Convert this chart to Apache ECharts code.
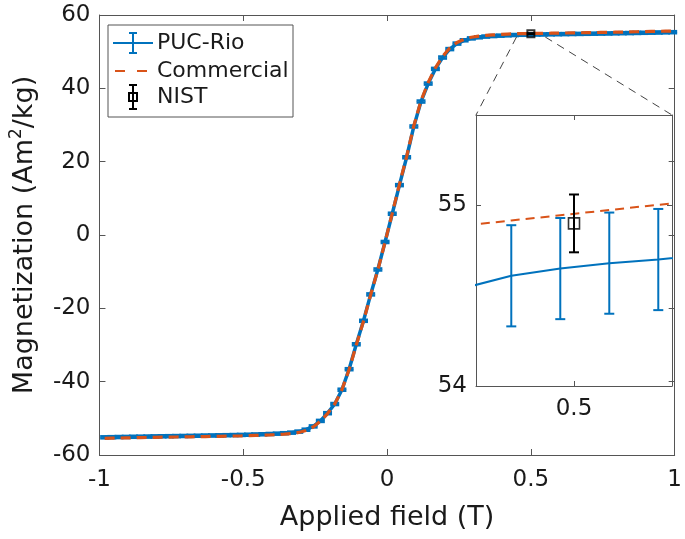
<!DOCTYPE html>
<html>
<head>
<meta charset="utf-8">
<script src="https://cdn.jsdelivr.net/npm/echarts@6/dist/echarts.min.js"></script>
<style>html,body{margin:0;padding:0;background:#fff}#c{width:685px;height:539px}</style>
</head>
<body>
<div id="c"></div>
<script>
// ---------------- data ----------------
const fieldT = [-0.982,-0.957,-0.932,-0.907,-0.882,-0.857,-0.832,-0.807,-0.782,-0.757,-0.732,-0.707,-0.682,-0.657,-0.632,-0.607,-0.582,-0.557,-0.532,-0.507,-0.482,-0.457,-0.432,-0.407,-0.382,-0.357,-0.332,-0.307,-0.282,-0.257,-0.232,-0.207,-0.182,-0.157,-0.132,-0.107,-0.082,-0.057,-0.032,-0.007,0.018,0.043,0.068,0.093,0.118,0.143,0.168,0.193,0.218,0.243,0.268,0.293,0.318,0.343,0.368,0.393,0.418,0.443,0.468,0.493,0.518,0.543,0.568,0.593,0.618,0.643,0.668,0.693,0.718,0.743,0.768,0.793,0.818,0.843,0.868,0.893,0.918,0.943,0.968,0.993];
const pucRioM = [-55.18,-55.14,-55.10,-55.07,-55.03,-55.00,-54.97,-54.93,-54.90,-54.87,-54.84,-54.81,-54.78,-54.75,-54.71,-54.68,-54.64,-54.60,-54.56,-54.52,-54.47,-54.41,-54.35,-54.27,-54.18,-54.06,-53.90,-53.62,-53.10,-52.20,-50.70,-48.60,-46.10,-42.20,-36.60,-29.80,-23.40,-16.20,-9.40,-1.90,5.80,13.60,21.20,29.60,36.40,41.30,45.30,48.40,50.70,52.20,53.10,53.62,53.92,54.12,54.26,54.37,54.46,54.54,54.61,54.65,54.68,54.70,54.73,54.76,54.79,54.82,54.85,54.88,54.91,54.94,54.97,55.00,55.04,55.07,55.11,55.15,55.19,55.23,55.27,55.31];
const pucRioErr = 0.28;
const commercialM = [-55.45,-55.41,-55.37,-55.33,-55.29,-55.26,-55.22,-55.19,-55.15,-55.12,-55.09,-55.06,-55.03,-55.00,-54.97,-54.93,-54.90,-54.86,-54.82,-54.78,-54.73,-54.67,-54.61,-54.53,-54.44,-54.32,-54.15,-53.85,-53.30,-52.35,-50.80,-48.70,-46.10,-42.20,-36.70,-30.00,-23.50,-16.30,-9.50,-1.90,5.90,13.80,21.40,29.80,36.60,41.60,45.60,48.70,51.00,52.50,53.40,53.92,54.22,54.42,54.56,54.68,54.79,54.887,54.916,54.945,54.974,55.003,55.03,55.06,55.09,55.12,55.15,55.18,55.21,55.24,55.27,55.31,55.35,55.39,55.43,55.47,55.51,55.55,55.59,55.63];
const nistField = [0.5];
const nistM = [54.90];
const nistErr = [0.16];

const mainXTicks = [-1, 1, 0.5];     // min, max, interval
const mainYTicks = [-60, 60, 20];
const insetXRange = [0.45, 0.55];
const insetYRange = [54, 55.5];
const insetXLabels = [0.5];
const insetYLabels = [54, 55];

// ---------------- styling ----------------
const BLUE = '#0072BD', RED = '#D95319';
const FONT = 'DejaVu Sans';
const AX = '#555';
const TXT = '#1a1a1a';

const pucData = fieldT.map((x, i) => [x, pucRioM[i]]);
const pucErrData = fieldT.map((x, i) => [x, pucRioM[i], pucRioErr]);
const comData = fieldT.map((x, i) => [x, commercialM[i]]);
const nistData = nistField.map((x, i) => [x, nistM[i]]);
const nistErrData = nistField.map((x, i) => [x, nistM[i], nistErr[i]]);

function errRender(color, capHalf, lw) {
  return function (params, api) {
    const x = api.value(0), y = api.value(1), e = api.value(2);
    const a = api.coord([x, y + e]), b = api.coord([x, y - e]);
    const st = { stroke: color, lineWidth: lw, fill: null };
    return { type: 'group', children: [
      { type: 'line', shape: { x1: a[0], y1: a[1], x2: b[0], y2: b[1] }, style: st },
      { type: 'line', shape: { x1: a[0] - capHalf, y1: a[1], x2: a[0] + capHalf, y2: a[1] }, style: st },
      { type: 'line', shape: { x1: b[0] - capHalf, y1: b[1], x2: b[0] + capHalf, y2: b[1] }, style: st }
    ]};
  };
}

function baseAxis(extra) {
  return Object.assign({
    type: 'value',
    axisLine: { show: true, onZero: false, lineStyle: { color: AX, width: 1 } },
    axisTick: { show: true, inside: true, length: 6, lineStyle: { color: AX, width: 1 } },
    splitLine: { show: false },
    axisLabel: { color: TXT, fontSize: 23, fontFamily: FONT }
  }, extra);
}

const chart = echarts.init(document.getElementById('c'), null, { renderer: 'canvas' });

const option = {
  animation: false,
  backgroundColor: '#fff',
  grid: [
    { left: 97, top: 15, right: 6, bottom: 84 },
    { left: 476, top: 115, width: 196, height: 271, show: true, backgroundColor: '#fff', borderWidth: 0 }
  ],
  xAxis: [
    baseAxis({ gridIndex: 0, position: 'bottom', min: mainXTicks[0], max: mainXTicks[1], interval: mainXTicks[2],
      axisLabel: { color: TXT, fontSize: 23, fontFamily: FONT, margin: 14, showMinLabel: true, showMaxLabel: true },
      name: 'Applied field (T)', nameLocation: 'middle', nameGap: 47,
      nameTextStyle: { color: TXT, fontSize: 27, fontFamily: FONT, lineHeight: 32 } }),
    baseAxis({ gridIndex: 0, position: 'top', min: mainXTicks[0], max: mainXTicks[1], interval: mainXTicks[2],
      axisLabel: { show: false } }),
    baseAxis({ gridIndex: 1, position: 'bottom', min: insetXRange[0], max: insetXRange[1],
      axisLabel: { color: TXT, fontSize: 23, fontFamily: FONT, margin: 12, customValues: insetXLabels },
      axisTick: { show: true, inside: true, length: 5, lineStyle: { color: AX }, customValues: insetXLabels } }),
    baseAxis({ gridIndex: 1, position: 'top', min: insetXRange[0], max: insetXRange[1],
      axisLabel: { show: false },
      axisTick: { show: true, inside: true, length: 5, lineStyle: { color: AX }, customValues: insetXLabels } })
  ],
  yAxis: [
    baseAxis({ gridIndex: 0, position: 'left', min: mainYTicks[0], max: mainYTicks[1], interval: mainYTicks[2],
      axisLabel: { color: TXT, fontSize: 23, fontFamily: FONT, margin: 9, showMinLabel: true, showMaxLabel: true },
      name: '{a|Magnetization (Am}{s|2}{a|/kg)}', nameLocation: 'middle', nameGap: 46,
      nameTextStyle: { color: TXT, fontFamily: FONT, fontSize: 27, lineHeight: 34,
        rich: { a: { fontSize: 27, fontFamily: FONT, color: TXT, lineHeight: 34 },
                s: { fontSize: 17, fontFamily: FONT, color: TXT, lineHeight: 34, verticalAlign: 'top', padding: [0, 0, 14, 0] } } } }),
    baseAxis({ gridIndex: 0, position: 'right', min: mainYTicks[0], max: mainYTicks[1], interval: mainYTicks[2],
      axisLabel: { show: false } }),
    baseAxis({ gridIndex: 1, position: 'left', min: insetYRange[0], max: insetYRange[1],
      axisLabel: { color: TXT, fontSize: 23, fontFamily: FONT, margin: 9, customValues: insetYLabels },
      axisTick: { show: true, inside: true, length: 5, lineStyle: { color: AX }, customValues: insetYLabels } }),
    baseAxis({ gridIndex: 1, position: 'right', min: insetYRange[0], max: insetYRange[1],
      axisLabel: { show: false },
      axisTick: { show: true, inside: true, length: 5, lineStyle: { color: AX }, customValues: insetYLabels } })
  ],
  series: [
    // main plot
    { name: 'PUC-Rio', type: 'line', xAxisIndex: 0, yAxisIndex: 0, data: pucData, symbol: 'none',
      lineStyle: { color: BLUE, width: 3.5 }, z: 2 },
    { name: 'PUC-Rio err', type: 'custom', xAxisIndex: 0, yAxisIndex: 0, data: pucErrData,
      renderItem: errRender(BLUE, 4.5, 2.5), encode: { x: 0, y: 1 }, z: 3 },
    { name: 'Commercial', type: 'line', xAxisIndex: 0, yAxisIndex: 0, data: comData, symbol: 'none',
      lineStyle: { color: RED, width: 3.2, type: [10, 6] }, z: 4 },
    { name: 'NIST err', type: 'custom', xAxisIndex: 0, yAxisIndex: 0, data: nistErrData,
      renderItem: errRender('#000', 4, 2), encode: { x: 0, y: 1 }, z: 5 },
    { name: 'NIST', type: 'scatter', xAxisIndex: 0, yAxisIndex: 0, data: nistData, symbol: 'rect', symbolSize: 7,
      itemStyle: { color: 'rgba(0,0,0,0)', borderColor: '#000', borderWidth: 2 }, z: 6 },
    // inset
    { name: 'PUC-Rio inset', type: 'line', xAxisIndex: 2, yAxisIndex: 2, data: pucData, symbol: 'none', clip: true,
      lineStyle: { color: BLUE, width: 2 }, z: 12 },
    { name: 'PUC-Rio err inset', type: 'custom', xAxisIndex: 2, yAxisIndex: 2, data: pucErrData, clip: true,
      renderItem: errRender(BLUE, 5, 2), encode: { x: 0, y: 1 }, z: 13 },
    { name: 'Commercial inset', type: 'line', xAxisIndex: 2, yAxisIndex: 2, data: comData, symbol: 'none', clip: true,
      lineStyle: { color: RED, width: 2, type: [9, 6] }, z: 14 },
    { name: 'NIST err inset', type: 'custom', xAxisIndex: 2, yAxisIndex: 2, data: nistErrData, clip: true,
      renderItem: errRender('#000', 5, 2), encode: { x: 0, y: 1 }, z: 15 },
    { name: 'NIST inset', type: 'scatter', xAxisIndex: 2, yAxisIndex: 2, data: nistData, symbol: 'rect', symbolSize: 11,
      itemStyle: { color: 'rgba(0,0,0,0)', borderColor: '#000', borderWidth: 1.6 }, z: 16 }
  ]
};
chart.setOption(option);

// connector lines from the zoomed region of the main plot to the inset corners
const srcL = chart.convertToPixel({ seriesIndex: 0 }, [insetXRange[0], insetYRange[0]]);
const srcR = chart.convertToPixel({ seriesIndex: 0 }, [insetXRange[1], insetYRange[0]]);
const dstL = chart.convertToPixel({ seriesIndex: 5 }, [insetXRange[0], insetYRange[1]]);
const dstR = chart.convertToPixel({ seriesIndex: 5 }, [insetXRange[1], insetYRange[1]]);
const dashSt = { stroke: '#444', lineWidth: 1, lineDash: [8, 6], fill: null };

// legend (MATLAB style, drawn as graphic with real text)
const lx = 108, ly = 25;
const legTxt = (t, y) => ({ type: 'text', x: lx + 49, y: y, style: { text: t, fill: TXT, font: '22px "' + FONT + '"', verticalAlign: 'middle' }, z: 101 });
const ln = (x1, y1, x2, y2, color, lw, dash) => ({ type: 'line', shape: { x1, y1, x2, y2 }, style: { stroke: color, lineWidth: lw, lineDash: dash || null, fill: null }, z: 101 });

chart.setOption({
  graphic: [
    { type: 'line', shape: { x1: srcL[0], y1: srcL[1], x2: dstL[0], y2: dstL[1] }, style: dashSt, z: 50 },
    { type: 'line', shape: { x1: srcR[0], y1: srcR[1], x2: dstR[0], y2: dstR[1] }, style: dashSt, z: 50 },
    { type: 'rect', shape: { x: lx, y: ly, width: 185, height: 92 }, style: { fill: '#fff', stroke: AX, lineWidth: 1 }, z: 100 },
    ln(lx + 5, ly + 18, lx + 45, ly + 18, BLUE, 2),
    ln(lx + 25, ly + 8, lx + 25, ly + 28, BLUE, 2),
    ln(lx + 21, ly + 8, lx + 29, ly + 8, BLUE, 2),
    ln(lx + 21, ly + 28, lx + 29, ly + 28, BLUE, 2),
    ln(lx + 7, ly + 46, lx + 39, ly + 46, RED, 2, [10, 12]),
    ln(lx + 25, ly + 60, lx + 25, ly + 84, '#000', 2),
    ln(lx + 21, ly + 60, lx + 29, ly + 60, '#000', 2),
    ln(lx + 21, ly + 84, lx + 29, ly + 84, '#000', 2),
    { type: 'rect', shape: { x: lx + 21, y: ly + 68, width: 8, height: 8 }, style: { fill: null, stroke: '#000', lineWidth: 2 }, z: 102 },
    legTxt('PUC-Rio', ly + 18),
    legTxt('Commercial', ly + 46),
    legTxt('NIST', ly + 72)
  ]
});
</script>
</body>
</html>
